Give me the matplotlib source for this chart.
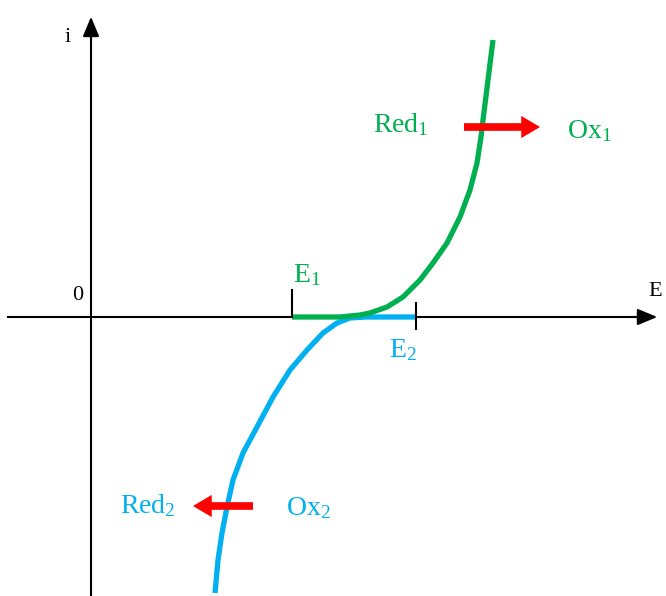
import matplotlib
matplotlib.use("Agg")
import matplotlib.pyplot as plt

# Data (units: E along x, i along y; origin at axes crossing)
green_E = [2.01, 2.49, 2.69, 2.79, 2.96, 3.12, 3.29, 3.42, 3.56, 3.69, 3.79, 3.86, 3.90, 3.92, 3.97, 4.02]
green_i = [0.00, 0.00, 0.02, 0.04, 0.10, 0.20, 0.37, 0.54, 0.74, 1.00, 1.27, 1.54, 1.80, 1.97, 2.37, 2.77]
blue_E = [3.25, 2.75, 2.59, 2.46, 2.32, 2.16, 1.99, 1.82, 1.66, 1.52, 1.42, 1.36, 1.31, 1.27, 1.24]
blue_i = [0.00, 0.00, -0.01, -0.06, -0.16, -0.33, -0.53, -0.80, -1.10, -1.36, -1.63, -1.90, -2.16, -2.43, -2.76]
E1, E2 = 2.01, 3.25

GREEN = "#00B050"
BLUE = "#00B0F0"
RED = "#FF0000"

plt.rcParams['mathtext.fontset'] = 'custom'
plt.rcParams['mathtext.rm'] = 'Liberation Serif'
plt.rcParams['mathtext.it'] = 'Liberation Serif'

fig = plt.figure(figsize=(6.66, 5.96), dpi=100)
ax = fig.add_axes([0, 0, 1, 1])
ax.set_xlim(-0.91, 5.75)
ax.set_ylim(-2.79, 3.17)
ax.axis('off')

# axes
ax.plot([-0.83, 5.55], [0, 0], color='black', lw=1.5, zorder=1)
ax.plot([0, 0], [-2.79, 2.90], color='black', lw=1.5, zorder=1)
ax.annotate('', xy=(5.69, 0), xytext=(5.40, 0),
            arrowprops=dict(arrowstyle='-|>,head_length=1.2,head_width=0.5', color='black', lw=1.5))
ax.annotate('', xy=(0, 3.03), xytext=(0, 2.75),
            arrowprops=dict(arrowstyle='-|>,head_length=1.2,head_width=0.5', color='black', lw=1.5))

# ticks for E1 and E2
ax.plot([E1, E1], [0, 0.27], color='black', lw=1.5, zorder=3)
ax.plot([E2, E2], [-0.12, 0.14], color='black', lw=1.5, zorder=3)

# curves
ax.plot(blue_E, blue_i, color=BLUE, lw=3.8, solid_capstyle='butt', solid_joinstyle='round', zorder=2)
ax.plot(green_E, green_i, color=GREEN, lw=3.8, solid_capstyle='butt', solid_joinstyle='round', zorder=2)

# red arrows
astyle = 'simple,head_length=1.35,head_width=1.6,tail_width=0.55'
ax.annotate('', xy=(4.49, 1.90), xytext=(3.73, 1.90),
            arrowprops=dict(arrowstyle=astyle, color=RED, lw=0, shrinkA=0, shrinkB=0), zorder=4)
ax.annotate('', xy=(1.02, -1.89), xytext=(1.62, -1.89),
            arrowprops=dict(arrowstyle=astyle, color=RED, lw=0, shrinkA=0, shrinkB=0), zorder=4)

serif = ['Liberation Serif', 'DejaVu Serif']
ax.text(-0.23, 2.80, 'i', fontsize=16, family=serif, ha='center', va='center')
ax.text(-0.13, 0.21, '0', fontsize=16, family=serif, ha='center', va='center')
ax.text(5.64, 0.26, 'E', fontsize=16, family=serif, ha='center', va='center')

fs = 20
ax.text(2.16, 0.42, r'E$_1$', fontsize=fs, family=serif, color=GREEN, ha='center', va='center')
ax.text(3.12, -0.33, r'E$_2$', fontsize=fs, family=serif, color=BLUE, ha='center', va='center')
ax.text(3.10, 1.92, r'Red$_1$', fontsize=fs, family=serif, color=GREEN, ha='center', va='center')
ax.text(4.98, 1.86, r'Ox$_1$', fontsize=fs, family=serif, color=GREEN, ha='center', va='center')
ax.text(0.57, -1.89, r'Red$_2$', fontsize=fs, family=serif, color=BLUE, ha='center', va='center')
ax.text(2.17, -1.91, r'Ox$_2$', fontsize=fs, family=serif, color=BLUE, ha='center', va='center')

fig.savefig('out.png', dpi=100)
